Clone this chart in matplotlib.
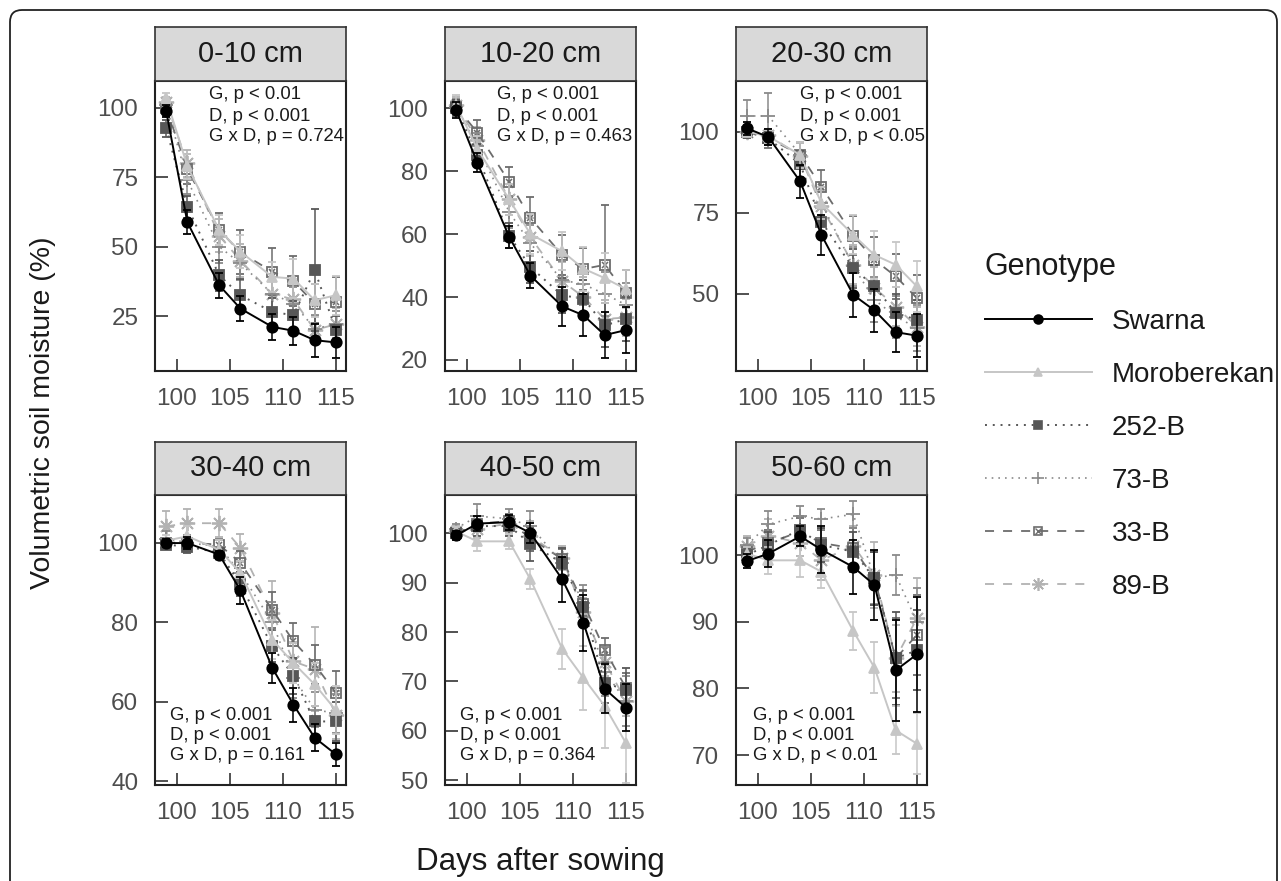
import matplotlib
matplotlib.use('Agg')
import matplotlib.pyplot as plt
from matplotlib.patches import FancyBboxPatch
from matplotlib.lines import Line2D
from matplotlib.legend_handler import HandlerTuple
import matplotlib.transforms as mtransforms

plt.rcParams['font.family'] = ['Liberation Sans', 'DejaVu Sans']

# ---------------- data ----------------
days = [99, 101, 104, 106, 109, 111, 113, 115]
depths = ['0-10 cm', '10-20 cm', '20-30 cm', '30-40 cm', '40-50 cm', '50-60 cm']
genotypes = ['Swarna', 'Moroberekan', '252-B', '73-B', '33-B', '89-B']

# means per depth (rows) per day (columns)
swarna_mean = [
    [98.9, 58.8, 36.1, 27.7, 21.1, 19.7, 16.3, 15.5],
    [99.4, 82.6, 59.1, 46.8, 37.0, 34.2, 27.9, 29.5],
    [101.1, 98.4, 84.7, 68.2, 49.7, 44.9, 38.2, 37.1],
    [99.9, 99.9, 97.0, 88.0, 68.5, 59.2, 50.9, 46.7],
    [99.6, 102.0, 102.3, 100.1, 90.7, 81.9, 68.5, 64.7],
    [99.1, 100.2, 102.8, 100.8, 98.2, 95.5, 82.7, 85.1],
]
swarna_err = [
    [2.0, 4.4, 4.5, 4.5, 4.8, 5.0, 6.0, 5.7],
    [2.5, 3.0, 3.5, 4.0, 6.3, 6.6, 7.4, 7.4],
    [2.0, 2.5, 5.1, 6.2, 6.8, 6.7, 6.2, 6.7],
    [1.0, 1.5, 1.0, 3.4, 3.8, 4.3, 3.4, 2.9],
    [1.0, 1.5, 1.5, 2.0, 4.5, 5.7, 5.0, 4.8],
    [1.0, 2.0, 1.5, 3.5, 4.1, 5.3, 7.6, 8.6],
]
moroberekan_mean = [
    [103.5, 79.0, 56.0, 48.2, 39.1, 38.5, 30.7, 32.5],
    [101.0, 87.0, 71.0, 60.0, 54.5, 49.0, 46.0, 42.5],
    [100.1, 98.6, 92.9, 78.0, 68.2, 62.0, 59.0, 52.3],
    [100.5, 101.6, 98.2, 92.4, 75.6, 69.7, 64.3, 57.8],
    [100.4, 98.4, 98.4, 90.7, 76.6, 70.7, 65.0, 57.5],
    [100.2, 99.2, 99.2, 97.5, 88.6, 83.1, 73.7, 71.7],
]
moroberekan_err = [
    [2.0, 4.5, 5.5, 6.0, 5.5, 7.0, 6.0, 7.0],
    [3.0, 4.0, 5.0, 6.5, 6.0, 7.0, 8.0, 6.0],
    [1.5, 2.0, 4.0, 5.0, 6.0, 7.5, 7.0, 8.0],
    [1.5, 2.5, 2.5, 3.0, 5.0, 5.0, 5.5, 6.0],
    [1.0, 2.0, 1.5, 2.0, 4.0, 6.5, 8.5, 8.0],
    [1.0, 2.0, 2.5, 2.5, 2.9, 3.8, 3.6, 4.6],
]
b252_mean = [
    [92.7, 64.4, 39.7, 32.5, 26.5, 25.3, 41.5, 20.0],
    [100.0, 85.0, 59.5, 49.5, 40.5, 39.5, 31.0, 33.0],
    [100.0, 98.0, 90.0, 72.3, 57.9, 52.3, 44.1, 42.0],
    [99.5, 99.0, 97.5, 89.5, 73.9, 66.4, 55.0, 55.0],
    [100.0, 101.5, 101.5, 97.9, 94.0, 85.0, 69.7, 68.3],
    [100.0, 101.5, 103.8, 101.5, 100.5, 96.5, 84.5, 85.7],
]
b252_err = [
    [3.0, 4.0, 5.5, 6.0, 5.0, 5.0, 22.0, 5.0],
    [2.5, 3.5, 4.0, 5.0, 5.5, 6.0, 7.0, 7.0],
    [2.0, 2.0, 4.0, 5.0, 6.0, 6.5, 6.0, 6.0],
    [1.0, 1.5, 1.5, 3.0, 4.0, 4.5, 4.0, 5.0],
    [1.0, 2.0, 2.0, 3.5, 3.0, 3.5, 4.0, 4.5],
    [1.0, 2.0, 2.0, 2.5, 3.0, 4.0, 7.0, 6.0],
]
b73_mean = [
    [101.0, 74.0, 50.0, 44.0, 33.0, 29.5, 20.5, 22.0],
    [100.5, 88.0, 67.0, 57.0, 45.4, 44.0, 41.0, 37.5],
    [104.9, 104.9, 93.0, 78.0, 58.5, 48.2, 43.0, 39.5],
    [101.0, 100.0, 99.0, 92.4, 80.0, 66.0, 58.0, 57.0],
    [101.0, 103.5, 103.0, 101.5, 94.0, 86.0, 72.0, 66.0],
    [101.5, 104.6, 105.8, 105.4, 106.1, 96.6, 97.0, 90.0],
]
b73_err = [
    [2.0, 5.0, 6.0, 6.0, 5.0, 6.0, 5.0, 5.0],
    [2.5, 4.0, 5.0, 6.0, 6.0, 6.5, 7.0, 7.0],
    [5.0, 7.0, 4.0, 5.0, 6.0, 7.0, 6.5, 7.0],
    [2.0, 2.0, 2.0, 3.0, 5.0, 5.0, 4.5, 5.0],
    [1.0, 2.5, 2.0, 3.0, 3.0, 3.5, 5.0, 5.0],
    [1.0, 2.0, 1.5, 1.5, 2.0, 4.0, 3.0, 5.0],
]
b33_mean = [
    [100.0, 78.0, 56.0, 48.0, 41.0, 37.5, 29.5, 30.0],
    [100.5, 92.2, 76.6, 65.1, 53.3, 48.9, 50.2, 41.3],
    [100.0, 98.0, 93.0, 83.1, 68.0, 60.5, 55.4, 48.7],
    [100.0, 100.0, 99.5, 94.9, 83.1, 75.2, 69.3, 62.2],
    [100.0, 102.0, 102.5, 99.0, 94.8, 85.8, 76.4, 68.7],
    [100.5, 101.8, 103.5, 101.8, 101.0, 96.5, 84.5, 88.0],
]
b33_err = [
    [2.0, 5.5, 6.2, 8.0, 8.5, 9.0, 7.0, 9.0],
    [2.0, 4.0, 4.8, 6.7, 6.4, 6.7, 19.0, 7.3],
    [2.0, 3.0, 4.0, 5.0, 6.0, 7.0, 7.0, 7.0],
    [1.0, 1.5, 1.5, 3.0, 4.5, 4.5, 5.0, 5.5],
    [1.0, 1.5, 1.5, 2.5, 2.0, 2.5, 2.5, 3.0],
    [1.0, 2.0, 2.0, 2.0, 3.0, 4.0, 6.0, 6.0],
]
b89_mean = [
    [102.0, 80.0, 54.0, 45.0, 33.0, 31.0, 20.0, 22.0],
    [101.0, 90.0, 71.0, 59.0, 45.0, 40.0, 33.0, 33.5],
    [100.0, 99.0, 92.5, 77.0, 59.0, 51.9, 46.1, 39.9],
    [104.1, 104.9, 104.9, 98.7, 82.3, 70.1, 68.2, 56.7],
    [100.5, 101.0, 102.0, 99.5, 95.0, 84.0, 74.0, 66.0],
    [101.4, 102.9, 101.8, 99.2, 101.4, 97.0, 84.5, 90.5],
]
b89_err = [
    [2.0, 5.0, 6.0, 6.0, 6.0, 6.0, 5.0, 6.0],
    [2.5, 4.0, 5.0, 6.0, 6.0, 6.5, 6.0, 6.0],
    [1.5, 2.0, 4.0, 5.0, 6.0, 6.5, 6.0, 6.0],
    [3.8, 3.5, 3.5, 3.5, 8.0, 5.0, 10.5, 6.0],
    [1.0, 2.0, 2.0, 3.0, 2.5, 3.0, 3.0, 3.0],
    [1.5, 2.5, 2.0, 3.0, 3.0, 5.0, 5.0, 6.0],
]

stats_text = [
    ['G, p < 0.01', 'D, p < 0.001', 'G x D, p = 0.724'],
    ['G, p < 0.001', 'D, p < 0.001', 'G x D, p = 0.463'],
    ['G, p < 0.001', 'D, p < 0.001', 'G x D, p < 0.05'],
    ['G, p < 0.001', 'D, p < 0.001', 'G x D, p = 0.161'],
    ['G, p < 0.001', 'D, p < 0.001', 'G x D, p = 0.364'],
    ['G, p < 0.001', 'D, p < 0.001', 'G x D, p < 0.01'],
]

y_ticks = [
    [25, 50, 75, 100],
    [20, 40, 60, 80, 100],
    [50, 75, 100],
    [40, 60, 80, 100],
    [50, 60, 70, 80, 90, 100],
    [70, 80, 90, 100],
]
y_limits = [(5.2, 109.7), (16.5, 108.6), (26.2, 115.7), (39.0, 112.0), (49.0, 107.8), (65.5, 109.0)]
x_ticks = [100, 105, 110, 115]

means = [swarna_mean, moroberekan_mean, b252_mean, b73_mean, b33_mean, b89_mean]
errs = [swarna_err, moroberekan_err, b252_err, b73_err, b33_err, b89_err]

styles = [
    dict(color='#000000', ls='-', marker='o', ms=7.5, lw=1.4, mfc='#000000'),
    dict(color='#c6c6c6', ls='-', marker='^', ms=7.5, lw=1.4, mfc='#c6c6c6'),
    dict(color='#575757', ls=(0, (1, 3)), marker='s', ms=6.5, lw=1.4, mfc='#575757'),
    dict(color='#8a8a8a', ls=(0, (1, 3)), marker='+', ms=10, lw=1.2, mfc='#8a8a8a'),
    dict(color='#6c6c6c', ls=(0, (5, 5)), marker='s', ms=7.5, lw=1.3, mfc='none'),
    dict(color='#b2b2b2', ls=(0, (5, 5)), marker=(8, 2, 0), ms=11, lw=1.3, mfc='#b2b2b2'),
]

# ---------------- layout (pixels) ----------------
W, H = 1281, 881
fig = plt.figure(figsize=(W / 100, H / 100), dpi=100)

col_left = [155, 445, 736]
pw = 191
rows = [(27, 81, 371), (442, 495, 785)]


def frac(x0, y0, x1, y1):
    return [x0 / W, 1 - y1 / H, (x1 - x0) / W, (y1 - y0) / H]


text_x = [0.283, 0.272, 0.335, 0.08, 0.08, 0.087]
text_y_top = [0.952, 0.876, 0.807]
text_y_bot = [0.241, 0.172, 0.103]

for p in range(6):
    r, c = divmod(p, 3)
    st, pt, pb = rows[r]
    x0 = col_left[c]
    ax = fig.add_axes(frac(x0, pt, x0 + pw, pb))
    sax = fig.add_axes(frac(x0, st, x0 + pw, pt))

    # strip
    sax.set_facecolor('#d9d9d9')
    sax.set_xticks([])
    sax.set_yticks([])
    for s in sax.spines.values():
        s.set_color('#333333')
        s.set_linewidth(1.2)
    sax.text(0.5, 0.5, depths[p], ha='center', va='center', fontsize=21,
             color='#1a1a1a', transform=sax.transAxes)

    for g in range(5, -1, -1):
        stl = styles[g]
        m = means[g][p]
        e = errs[g][p]
        z = 10 if g == 0 else 3 + (5 - g) * 0.1
        ax.errorbar(days, m, yerr=e, color=stl['color'], ls=stl['ls'], lw=stl['lw'],
                    marker=stl['marker'], ms=stl['ms'], mfc=stl['mfc'],
                    mec=stl['color'], mew=1.3, elinewidth=1.1, capsize=3,
                    capthick=1.1, zorder=z)
        if g == 4:
            ax.plot(days, m, ls='none', marker='x', ms=5, color=stl['color'],
                    mew=1.1, zorder=z)

    ax.set_xlim(97.95, 115.95)
    ax.set_ylim(*y_limits[p])
    ax.set_xticks(x_ticks)
    ax.set_yticks(y_ticks[p])
    ax.tick_params(direction='in', length=9, width=1.2, color='#333333',
                   labelsize=17.5, labelcolor='#4d4d4d', pad=12)
    for s in ax.spines.values():
        s.set_color('#222222')
        s.set_linewidth(1.5)

    ys = text_y_top if r == 0 else text_y_bot
    for line, yy in zip(stats_text[p], ys):
        ax.text(text_x[p], yy, line, transform=ax.transAxes, ha='left',
                va='center', fontsize=13.3, color='#1a1a1a', zorder=20)

# axis titles
fig.text(43 / W, 1 - 413 / H, 'Volumetric soil moisture (%)', rotation=90,
         ha='center', va='center', fontsize=20.5, color='#1a1a1a')
fig.text(540 / W, 1 - 862 / H, 'Days after sowing', ha='center', va='center',
         fontsize=22.5, color='#1a1a1a')

# legend
handles = []
for g in range(6):
    stl = styles[g]
    h = Line2D([], [], color=stl['color'], ls=stl['ls'], lw=stl['lw'],
               marker=stl['marker'], ms=stl['ms'] * 0.85, mfc=stl['mfc'],
               mec=stl['color'], mew=1.2)
    if g == 4:
        hx = Line2D([], [], ls='none', marker='x', ms=4.5, color=stl['color'], mew=1.0)
        h = (h, hx)
    handles.append(h)

leg = fig.legend(handles, genotypes, loc='upper left',
                 bbox_to_anchor=(971 / W, 1 - 238 / H), frameon=False,
                 title='Genotype', title_fontsize=22, fontsize=20,
                 handlelength=3.85, handletextpad=0.72, labelspacing=0.97,
                 borderpad=0, alignment='left',
                 handler_map={tuple: HandlerTuple(ndivide=1, pad=0)})
for t in leg.get_texts():
    t.set_color('#1a1a1a')
leg.get_title().set_color('#1a1a1a')

# outer rounded frame (display pixels)
frame = FancyBboxPatch((10, -40), 1267, 881 - 10 + 40,
                       boxstyle='round,pad=0,rounding_size=12',
                       transform=mtransforms.IdentityTransform(),
                       fill=False, edgecolor='#222222', linewidth=1.3)
fig.patches.append(frame)

fig.savefig('out.png', dpi=100)
